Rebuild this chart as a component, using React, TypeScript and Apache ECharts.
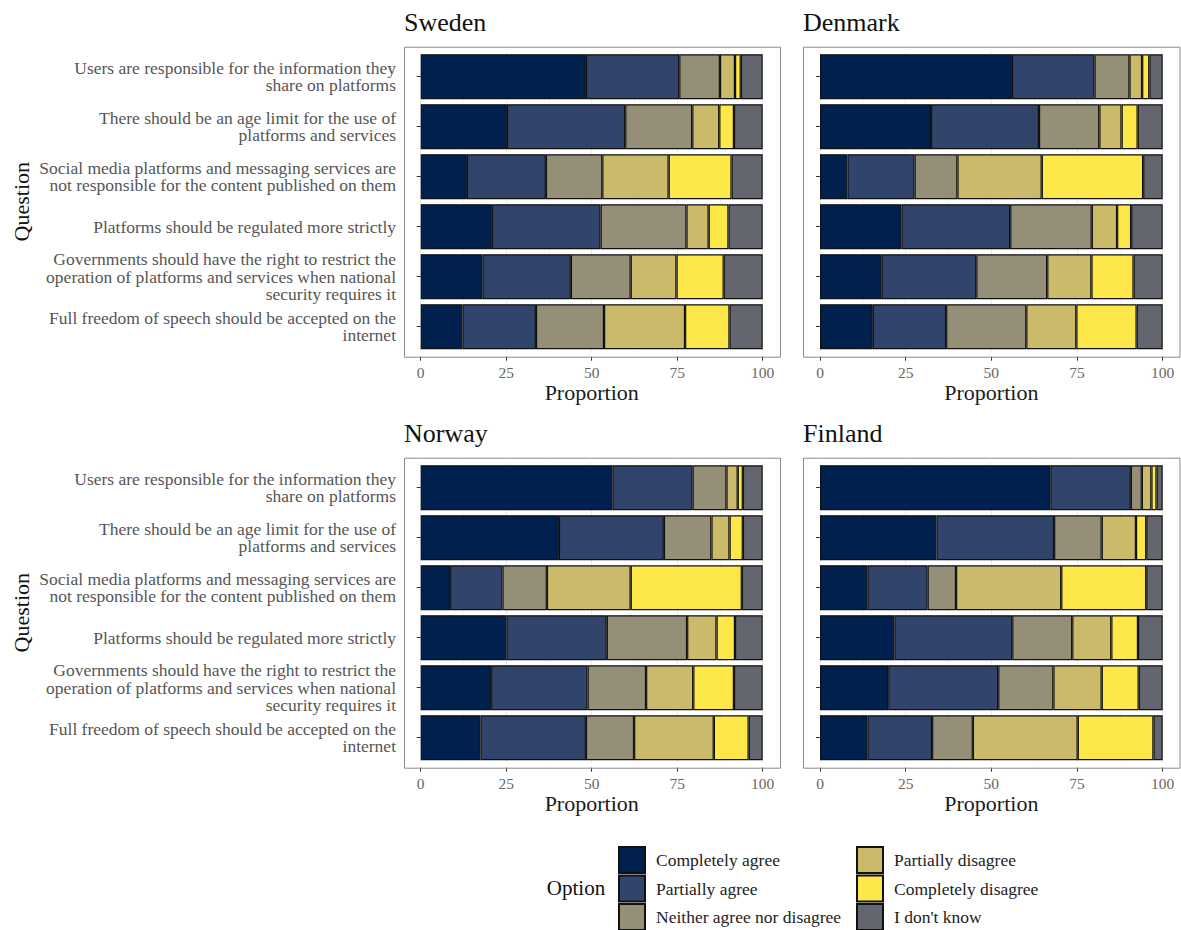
import React, { useEffect, useRef } from "react";
import * as echarts from "echarts";

const questions = [
  "Users are responsible for the information they\nshare on platforms",
  "There should be an age limit for the use of\nplatforms and services",
  "Social media platforms and messaging services are\nnot responsible for the content published on them",
  "Platforms should be regulated more strictly",
  "Governments should have the right to restrict the\noperation of platforms and services when national\nsecurity requires it",
  "Full freedom of speech should be accepted on the\ninternet",
];

const options = [
  "Completely agree",
  "Partially agree",
  "Neither agree nor disagree",
  "Partially disagree",
  "Completely disagree",
  "I don't know",
];

const optionColors = ["#00214E", "#31446B", "#958F78", "#CBBA69", "#FEE748", "#63666F"];

const countries = ["Sweden", "Denmark", "Norway", "Finland"];

// rows = questions (top to bottom), columns = options
const sweden = [
  [48.3, 27.3, 11.9, 4.4, 1.7, 6.4],
  [25.2, 34.6, 19.6, 7.9, 4.3, 8.4],
  [13.5, 23.1, 16.5, 19.4, 18.4, 9.1],
  [20.8, 31.8, 25.1, 6.5, 5.8, 10.0],
  [18.1, 25.8, 17.5, 13.4, 13.8, 11.4],
  [12.2, 21.5, 19.9, 23.7, 13.0, 9.7],
];
const denmark = [
  [56.0, 24.1, 10.2, 3.7, 2.1, 3.9],
  [32.4, 31.5, 17.6, 6.5, 4.7, 7.3],
  [8.0, 19.6, 12.5, 24.6, 29.6, 5.7],
  [23.8, 31.7, 23.8, 7.4, 4.1, 9.2],
  [18.0, 27.6, 20.7, 12.9, 12.3, 8.5],
  [15.4, 21.4, 23.4, 14.6, 17.6, 7.6],
];
const norway = [
  [56.1, 23.4, 9.9, 3.3, 1.5, 5.8],
  [40.4, 30.7, 13.9, 5.3, 3.9, 5.8],
  [8.6, 15.3, 13.0, 24.5, 32.5, 6.1],
  [25.1, 29.3, 23.5, 8.6, 5.4, 8.1],
  [20.6, 28.2, 17.1, 13.8, 11.9, 8.4],
  [17.5, 30.8, 14.1, 23.3, 10.2, 4.1],
];
const finland = [
  [67.2, 23.5, 3.2, 2.8, 1.5, 1.8],
  [34.0, 34.3, 13.9, 10.0, 3.0, 4.8],
  [13.9, 17.5, 8.3, 30.7, 24.8, 4.8],
  [21.7, 34.4, 17.5, 11.4, 7.8, 7.2],
  [19.9, 32.1, 16.1, 14.1, 10.8, 7.0],
  [13.9, 18.8, 11.9, 30.6, 22.1, 2.7],
];

const xTicks = { min: 0, max: 100, interval: 25 };

const countryData = [sweden, denmark, norway, finland];

const FONT = "Liberation Serif";

// panel layout (pixels)
const panels = [
  { px: 404, py: 46.7, pw: 376, gl: 420.7, gw: 342, showLabels: true },
  { px: 803, py: 46.7, pw: 376.5, gl: 820, gw: 342.7, showLabels: false },
  { px: 404, py: 457.7, pw: 376, gl: 420.7, gw: 342, showLabels: true },
  { px: 803, py: 457.7, pw: 376.5, gl: 820, gw: 342.7, showLabels: false },
];
const PANEL_H = 310;
const UNIT = PANEL_H / 6.2;

export default function App() {
  const ref = useRef<HTMLDivElement>(null);

  useEffect(() => {
    if (!ref.current) return;
    const chart = echarts.init(ref.current, undefined, { renderer: "svg" });

    const grids = panels.map((p) => ({
      left: p.gl,
      width: p.gw,
      top: p.py + UNIT * 0.1,
      height: UNIT * 6,
      containLabel: false,
    }));

    const xAxes = panels.map((p, i) => ({
      type: "value",
      gridIndex: i,
      min: xTicks.min,
      max: xTicks.max,
      interval: xTicks.interval,
      offset: UNIT * 0.1,
      axisLine: { show: false },
      axisTick: { show: true, length: 4, lineStyle: { color: "#333", width: 1 } },
      axisLabel: { color: "#666", fontFamily: FONT, fontSize: 15.5, margin: 8 },
      splitLine: { show: true, lineStyle: { color: "#EBEBEB", width: 1 } },
      minorTick: { show: false, splitNumber: 2 },
      minorSplitLine: { show: true, lineStyle: { color: "#F3F3F3", width: 0.8 } },
      name: "Proportion",
      nameLocation: "middle",
      nameGap: 25,
      nameTextStyle: {
        color: "#1a1a1a",
        fontFamily: FONT,
        fontSize: 22,
        verticalAlign: "top",
      },
    }));

    const yAxes = panels.map((p, i) => ({
      type: "category",
      gridIndex: i,
      data: questions,
      inverse: true,
      offset: p.gl - p.px,
      axisLine: { show: false },
      axisTick: {
        show: true,
        alignWithLabel: true,
        length: 4,
        lineStyle: { color: "#333", width: 1 },
      },
      axisLabel: {
        show: p.showLabels,
        color: "#555",
        fontFamily: FONT,
        fontSize: 17.5,
        lineHeight: 17.5,
        margin: 8,
        align: "right",
      },
      splitLine: { show: false },
    }));

    const series: any[] = [];
    countryData.forEach((rows, ci) => {
      options.forEach((opt, oi) => {
        series.push({
          type: "bar",
          name: opt,
          stack: "s" + ci,
          xAxisIndex: ci,
          yAxisIndex: ci,
          barCategoryGap: "10%",
          data: rows.map((r) => r[oi]),
          itemStyle: {
            color: optionColors[oi],
            borderColor: "#111",
            borderWidth: 1.2,
          },
          emphasis: { disabled: true },
        });
      });
    });

    const graphics: any[] = [];
    panels.forEach((p, i) => {
      graphics.push({
        type: "rect",
        z: 100,
        shape: { x: p.px + 0.5, y: p.py + 0.5, width: p.pw, height: PANEL_H },
        style: { fill: "none", stroke: "#8a8a8a", lineWidth: 1 },
        silent: true,
      });
      graphics.push({
        type: "text",
        x: p.px,
        y: p.py - 24.5,
        style: {
          text: countries[i],
          fontFamily: FONT,
          fontSize: 26,
          fill: "#111",
          textAlign: "left",
          textVerticalAlign: "middle",
        },
      });
    });
    [panels[0], panels[2]].forEach((p) => {
      graphics.push({
        type: "text",
        x: 21,
        y: p.py + PANEL_H / 2,
        rotation: Math.PI / 2,
        style: {
          text: "Question",
          fontFamily: FONT,
          fontSize: 22,
          fill: "#111",
          textAlign: "center",
          textVerticalAlign: "middle",
        },
      });
    });
    graphics.push({
      type: "text",
      x: 576,
      y: 888,
      style: {
        text: "Option",
        fontFamily: FONT,
        fontSize: 21,
        fill: "#111",
        textAlign: "center",
        textVerticalAlign: "middle",
      },
    });

    const legendCommon = {
      orient: "vertical",
      itemWidth: 26,
      itemHeight: 26,
      itemGap: 0.5,
      padding: 0,
      height: 120,
      icon: "rect",
      selectedMode: false,
      textStyle: {
        fontFamily: FONT,
        fontSize: 17.5,
        lineHeight: 20,
        color: "#222",
        padding: [0, 0, 0, 6],
      },
    };

    chart.setOption({
      animation: false,
      grid: grids,
      xAxis: xAxes,
      yAxis: yAxes,
      series,
      legend: [
        { ...legendCommon, left: 618, top: 846, data: options.slice(0, 3) },
        { ...legendCommon, left: 856, top: 846, data: options.slice(3, 6) },
      ],
      graphic: graphics,
    });

    return () => chart.dispose();
  }, []);

  return (
    <div
      ref={ref}
      style={{ position: "fixed", left: 0, top: 0, width: 1181, height: 980, background: "#fff" }}
    />
  );
}
